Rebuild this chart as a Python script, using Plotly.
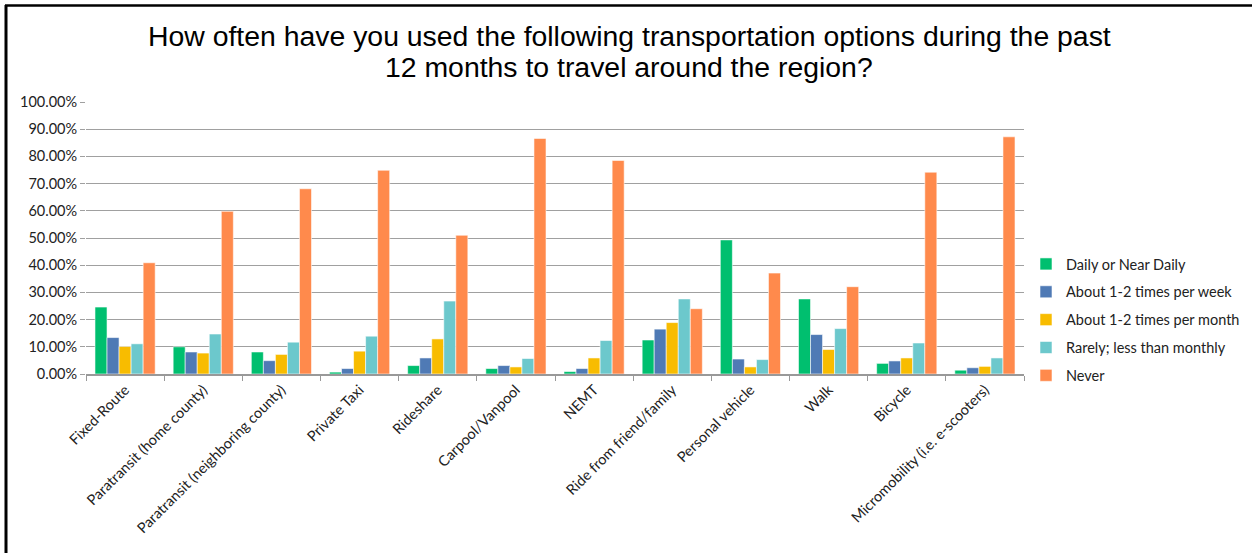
import plotly.graph_objects as go

categories = ["Fixed-Route", "Paratransit (home county)", "Paratransit (neighboring county)",
              "Private Taxi", "Rideshare", "Carpool/Vanpool", "NEMT", "Ride from friend/family",
              "Personal vehicle", "Walk", "Bicycle", "Micromobility (i.e. e-scooters)"]

daily = [24.6, 10.0, 8.1, 0.7, 3.1, 2.0, 0.9, 12.5, 49.3, 27.6, 3.9, 1.4]
weekly = [13.4, 8.1, 4.9, 2.0, 5.9, 3.1, 2.0, 16.5, 5.5, 14.5, 4.8, 2.3]
monthly = [10.1, 7.7, 7.2, 8.4, 12.9, 2.6, 5.9, 18.9, 2.6, 9.0, 5.9, 2.8]
rarely = [11.1, 14.7, 11.7, 13.9, 26.8, 5.7, 12.3, 27.6, 5.3, 16.7, 11.4, 5.9]
never = [40.9, 59.8, 68.1, 74.9, 51.0, 86.6, 78.5, 24.0, 37.1, 32.1, 74.2, 87.2]

series_names = ["Daily or Near Daily", "About 1-2 times per week", "About 1-2 times per month",
                "Rarely; less than monthly", "Never"]
series_values = [daily, weekly, monthly, rarely, never]
colors = ["#00BF6F", "#4F7AB5", "#F8BC00", "#6CC8CC", "#FF8A4C"]

title_lines = ["How often have you used the following transportation options during the past",
               "12 months to travel around the region?"]

W, H = 1252, 553
ml, mr, mt, mb = 86, 228, 102, 179
pw, ph = W - ml - mr, H - mt - mb

fig = go.Figure()
for i, (name, vals, col) in enumerate(zip(series_names, series_values, colors)):
    fig.add_trace(go.Bar(
        x=categories, y=[v / 100 for v in vals], name=name,
        marker=dict(color=col, line=dict(color="rgba(255,255,255,0.7)", width=0.8)),
        legendgroup=f"g{i}",
    ))

def px_x(p):
    return (p - ml) / pw

def px_y(p):
    return (H - mb - p) / ph

font_main = "Lato, 'Open Sans', sans-serif"
fs = 14.5

fig.update_layout(
    width=W, height=H,
    margin=dict(l=ml, r=mr, t=mt, b=mb, autoexpand=False),
    paper_bgcolor="white", plot_bgcolor="white",
    barmode="group", bargap=0.23, bargroupgap=0,
    xaxis=dict(
        tickangle=-45, tickfont=dict(family=font_main, size=fs, color="#222"),
        showline=True, linecolor="#999", linewidth=1.5,
        ticks="outside", tickson="boundaries", ticklen=5, tickcolor="#999",
        showgrid=False, automargin=False,
    ),
    yaxis=dict(
        range=[0, 1], dtick=0.1, tickformat=".2%",
        tickfont=dict(family=font_main, size=fs, color="#222"),
        showgrid=True, gridcolor="#A0A0A0", gridwidth=1.2,
        ticks="outside", ticklen=5, tickcolor="#A0A0A0",
        showline=False, zeroline=False, automargin=False,
    ),
    legend=dict(
        x=px_x(1026), xanchor="left", y=px_y(248), yanchor="top",
        font=dict(family=font_main, size=fs, color="#222"),
        tracegroupgap=6, itemwidth=30,
        bgcolor="rgba(0,0,0,0)",
    ),
    showlegend=True,
)

for line, ypx in zip(title_lines, [36, 67]):
    fig.add_annotation(
        text=line, xref="paper", yref="paper",
        x=px_x(629), y=px_y(ypx), xanchor="center", yanchor="middle",
        showarrow=False,
        font=dict(family="'Liberation Sans', Arial, sans-serif", size=28.4, color="black"),
    )

# black frame (left and top edges visible)
fig.add_shape(type="line", xref="paper", yref="paper",
              x0=px_x(6), x1=px_x(6), y0=px_y(5), y1=px_y(560),
              line=dict(color="black", width=3))
fig.add_shape(type="line", xref="paper", yref="paper",
              x0=px_x(5), x1=px_x(1260), y0=px_y(5.5), y1=px_y(5.5),
              line=dict(color="black", width=2.5))

fig.write_html("out.html")
